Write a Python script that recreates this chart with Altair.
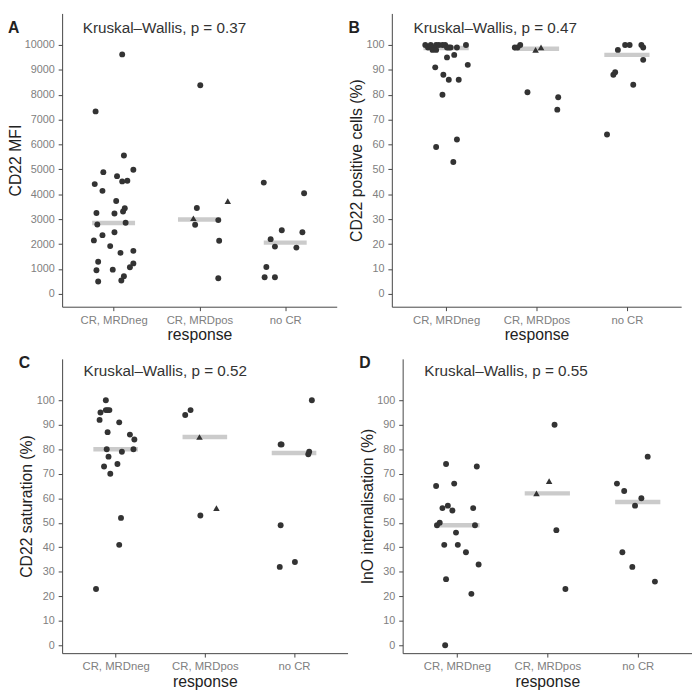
import altair as alt
import pandas as pd

CATEGORIES = ["CR, MRDneg", "CR, MRDpos", "no CR"]
POSITIONS = [1, 2, 3]

# A: CD22 MFI (x = category position + jitter)
A_CIRC_X = [1.10, 0.79, 1.12, 1.23, 0.88, 1.04, 1.10, 1.16, 0.78, 0.87, 1.03,
            1.13, 1.11, 0.80, 1.01, 1.14, 0.81, 0.87, 1.01, 0.77, 0.96, 1.23,
            1.08, 0.82, 1.23, 1.19, 0.80, 0.99, 1.12, 0.82, 1.09,
            1.97, 1.95, 2.22, 2.23, 2.22, 2.01,
            2.75, 3.22, 2.96, 3.20, 2.83, 2.88, 3.13, 2.78, 2.76, 2.88]
A_CIRC_Y = [9620, 7330, 5560, 4990, 4890, 4730, 4520, 4545, 4410, 4140, 3730,
            3440, 3310, 3250, 3230, 2860, 2790, 2360, 2480, 2150, 1920, 1730,
            1650, 1290, 1225, 1070, 950, 975, 710, 500, 540,
            3450, 2780, 2965, 2135, 630, 8380,
            4470, 4045, 2555, 2475, 2200, 1900, 1860, 1080, 670, 670]
A_TRI_X = [1.93, 2.33]
A_TRI_Y = [3040, 3730]
A_MEDIAN = [2850, 2990, 2060]

# B: CD22 positive cells (%)
B_CIRC_X = [0.77, 0.80, 0.83, 0.86, 0.89, 0.92, 0.96, 0.99, 1.01, 1.05, 1.12,
            1.22, 0.85, 0.89, 1.03, 1.09, 1.01, 1.24, 0.88, 0.97, 1.03, 1.14,
            0.96, 0.89, 1.12, 1.08,
            1.76, 1.79, 1.82, 1.90, 2.24, 2.23,
            2.90, 2.98, 3.03, 3.16, 3.18, 3.18, 2.85, 2.87, 3.07, 2.78]
B_CIRC_Y = [100, 99, 100, 99, 100, 100, 100, 100, 99, 99, 99,
            100, 98, 98, 99, 96, 95, 92, 91, 88, 86, 86,
            80, 59, 62, 53,
            99, 99, 100, 81, 79, 74,
            98, 100, 100, 100, 99, 94, 88, 89, 84, 64]
B_TRI_X = [1.99, 2.05]
B_TRI_Y = [98, 99]
B_MEDIAN = [98.8, 98.5, 96]

# C: CD22 saturation (%)
C_CIRC_X = [0.89, 0.83, 0.89, 0.91, 0.93, 0.82, 1.04, 0.91, 1.16, 1.21, 0.90,
            1.20, 1.07, 0.92, 1.02, 0.87, 0.94, 1.06, 1.04, 0.78,
            1.78, 1.84, 1.95,
            3.20, 2.85, 2.86, 3.17, 3.16, 2.85, 3.01, 2.84]
C_CIRC_Y = [100, 95, 96, 96, 96, 92, 91, 87, 86, 84, 80,
            80, 79, 77, 74, 73, 70, 52, 41, 23,
            94, 96, 53,
            100, 82, 82, 79, 78, 49, 34, 32]
C_TRI_X = [1.94, 2.13]
C_TRI_Y = [85, 56]
C_MEDIAN = [80, 85, 78.5]

# D: InO internalisation (%)
D_CIRC_X = [0.88, 0.77, 1.22, 0.97, 0.84, 0.90, 0.95, 1.18, 0.78, 0.81, 1.20,
            0.99, 0.86, 1.01, 1.10, 1.24, 0.88, 1.16, 0.87,
            2.08, 2.10, 2.20,
            3.11, 2.77, 2.85, 3.04, 2.97, 2.83, 2.94, 3.19]
D_CIRC_Y = [74, 65, 73, 66, 56, 57, 55, 56, 49, 50, 49,
            46, 41, 41, 38, 33, 27, 21, 0,
            90, 47, 23,
            77, 66, 63, 60, 57, 38, 32, 26]
D_TRI_X = [2.02, 1.88]
D_TRI_Y = [67, 62]
D_MEDIAN = [49, 62, 58.5]

P_TEXT = ["Kruskal\u2013Wallis, p = 0.37", "Kruskal\u2013Wallis, p = 0.47",
          "Kruskal\u2013Wallis, p = 0.52", "Kruskal\u2013Wallis, p = 0.55"]

FONT = "Liberation Sans"
INK = "#333333"


def panel(letter, p_text, ytitle, circ_x, circ_y, tri_x, tri_y, medians,
          domain, ticks, label_y, width, height, extent, letter_x, letter_y):
    label_expr = " : ".join(
        f"datum.value == {p} ? '{c}'" for p, c in zip(POSITIONS[:-1], CATEGORIES[:-1])
    ) + f" : '{CATEGORIES[-1]}'"
    x_scale = alt.Scale(domain=[0.4, 3.6], nice=False, zero=False)
    y_scale = alt.Scale(domain=domain, nice=False, zero=False)
    x_axis = alt.Axis(values=POSITIONS, labelExpr=label_expr, title="response",
                      grid=False, titlePadding=1, labelOverlap=False,
                      labelFontSize=11.5)
    y_axis = alt.Axis(values=ticks, title=ytitle, grid=False, format="d",
                      labelOverlap=False, minExtent=extent, maxExtent=extent,
                      titlePadding=1, labelFontSize=11)

    def xy(xf, yf):
        return dict(x=alt.X(xf, scale=x_scale, axis=x_axis),
                    y=alt.Y(yf, scale=y_scale, axis=y_axis))

    med = pd.DataFrame({"pos": POSITIONS, "median": medians})
    median_line = (
        alt.Chart(med)
        .transform_calculate(x1="datum.pos - 0.25", x2="datum.pos + 0.25")
        .mark_rule(color="#cbcbcb", strokeWidth=4.5, strokeCap="butt")
        .encode(x2="x2:Q", **xy("x1:Q", "median:Q"))
    )
    circles = (
        alt.Chart(pd.DataFrame({"x": circ_x, "y": circ_y}))
        .mark_point(shape="circle", filled=True, size=36, color=INK, opacity=1)
        .encode(**xy("x:Q", "y:Q"))
    )
    triangles = (
        alt.Chart(pd.DataFrame({"x": tri_x, "y": tri_y}))
        .mark_point(shape="triangle-up", filled=True, size=44, color=INK, opacity=1)
        .encode(**xy("x:Q", "y:Q"))
    )
    ptext = (
        alt.Chart(pd.DataFrame({"x": [0.64], "y": [label_y], "t": [p_text]}))
        .mark_text(align="left", baseline="alphabetic", fontSize=15.5,
                   color=INK, font=FONT)
        .encode(text="t:N", **xy("x:Q", "y:Q"))
    )
    tag = (
        alt.Chart(pd.DataFrame({"t": [letter]}))
        .mark_text(align="left", baseline="alphabetic", fontSize=16,
                   fontWeight="bold", color="#222222", font=FONT)
        .encode(x=alt.value(letter_x), y=alt.value(letter_y), text="t:N")
    )
    return (median_line + circles + triangles + ptext + tag).properties(
        width=width, height=height
    )


pct_ticks = list(range(0, 101, 10))
mfi_ticks = list(range(0, 10001, 1000))

a = panel("A", P_TEXT[0], "CD22 MFI", A_CIRC_X, A_CIRC_Y, A_TRI_X, A_TRI_Y,
          A_MEDIAN, [-514, 11265], mfi_ticks, 10474, 279, 298, 38, -55, 20)
b = panel("B", P_TEXT[1], "CD22 positive cells (%)", B_CIRC_X, B_CIRC_Y,
          B_TRI_X, B_TRI_Y, B_MEDIAN, [-5.14, 112.65], pct_ticks, 104.7, 294,
          298, 27, -44, 20)
c = panel("C", P_TEXT[2], "CD22 saturation (%)", C_CIRC_X, C_CIRC_Y,
          C_TRI_X, C_TRI_Y, C_MEDIAN, [-3.2, 116.9], pct_ticks, 110, 290,
          299, 27, -44, 9)
d = panel("D", P_TEXT[3], "InO internalisation (%)", D_CIRC_X, D_CIRC_Y,
          D_TRI_X, D_TRI_Y, D_MEDIAN, [-3.2, 116.9], pct_ticks, 110, 294,
          299, 27, -44, 9)

chart = (
    alt.vconcat(alt.hconcat(a, b, spacing=12), alt.hconcat(c, d, spacing=12),
                spacing=12)
    .properties(padding=0)
    .configure(font=FONT)
    .configure_view(stroke=None)
    .configure_axis(
        domainColor="#444444", tickColor="#444444", tickSize=4,
        labelPadding=4, labelColor="#808080",
        labelFont=FONT, titleFont=FONT, titleColor="#222222",
        titleFontSize=16, titleFontWeight="normal",
    )
)

chart.save("out.html", embed_options={"renderer": "svg", "actions": False})
